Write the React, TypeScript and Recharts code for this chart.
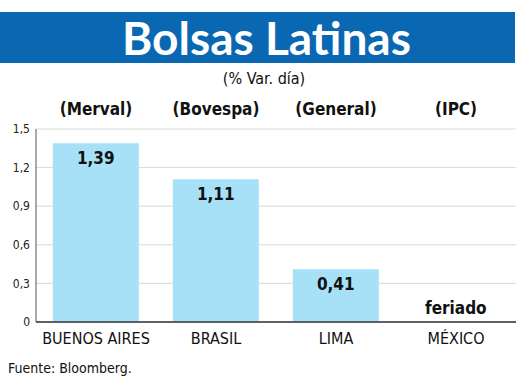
import React from 'react';
import { BarChart, Bar, Cell, XAxis, YAxis, CartesianGrid, LabelList } from 'recharts';

const paises = ['BUENOS AIRES', 'BRASIL', 'LIMA', 'MÉXICO'];
const indices = ['(Merval)', '(Bovespa)', '(General)', '(IPC)'];
const variacion = [1.39, 1.11, 0.41, 0];
const notas = ['', '', '', 'feriado'];
const ticksY = [0, 0.3, 0.6, 0.9, 1.2, 1.5];

const FONT = "'DejaVu Sans Condensed', 'Liberation Sans Narrow', 'Roboto', sans-serif";
const FONT_TITULO = "Lato, 'DejaVu Sans Condensed', sans-serif";
const AZUL_TITULO = '#0a67b1';
const CELESTE = '#a6e1f7';

const data = paises.map((pais, i) => ({
  pais,
  indice: indices[i],
  valor: variacion[i],
  nota: notas[i],
}));

// 1.39 -> "1,39"; 0 -> "0"
const fmt = (v: number, dec: number) => (v === 0 ? '0' : v.toFixed(dec).replace('.', ','));

const EtiquetaValor = (props: any) => {
  const { x, y, width, height, index } = props;
  const d = data[index];
  const cx = x + width / 2;
  if (d.nota) {
    // barra sin variación: la nota va apoyada sobre la base
    return (
      <text x={cx} y={y + height - 14} textAnchor="middle" dominantBaseline="central"
        fontFamily={FONT} fontWeight="bold" fontSize={17} fill="#111">
        {d.nota}
      </text>
    );
  }
  return (
    <text x={cx} y={y + 15} textAnchor="middle" dominantBaseline="central"
      fontFamily={FONT} fontWeight="bold" fontSize={17} fill="#111">
      {fmt(d.valor, 2)}
    </text>
  );
};

export default function App() {
  return (
    <div style={{ position: 'absolute', left: 0, top: 0, width: 520, height: 389, background: '#fff', overflow: 'hidden' }}>
      <div style={{
        position: 'absolute', left: 0, top: 12, width: 515, height: 51, background: AZUL_TITULO,
        color: '#fff', fontFamily: FONT_TITULO, fontWeight: 'bold', fontSize: 46, lineHeight: '51px',
        textAlign: 'center', paddingLeft: 18, boxSizing: 'border-box',
      }}>
        Bolsas Latinas
      </div>
      <div style={{
        position: 'absolute', left: 0, top: 69, width: 528, textAlign: 'center',
        fontFamily: FONT, fontSize: 16, color: '#111',
      }}>
        (% Var. día)
      </div>
      <div style={{ position: 'absolute', left: 0, top: 0 }}>
        <BarChart width={520} height={389} data={data}
          margin={{ top: 90, right: 4, bottom: 37, left: 0 }} barCategoryGap="14%">
          <CartesianGrid vertical={false} stroke="#d9d9d9" />
          <XAxis dataKey="pais" xAxisId="abajo" height={30} tickSize={0} tickMargin={11}
            axisLine={{ stroke: '#333', strokeWidth: 1.5 }}
            tick={{ fontFamily: FONT, fontSize: 16, fill: '#111' }} interval={0} />
          <XAxis dataKey="indice" xAxisId="arriba" orientation="top" height={39} tickSize={0} tickMargin={14}
            axisLine={false} tick={{ fontFamily: FONT, fontSize: 17, fontWeight: 'bold', fill: '#111' }} interval={0} />
          <YAxis width={36} domain={[0, 1.5]} ticks={ticksY} tickSize={0} tickMargin={6}
            axisLine={{ stroke: '#555' }} tickFormatter={(v: number) => fmt(v, 1)}
            tick={{ fontFamily: FONT, fontSize: 12, fill: '#222' }} />
          <Bar dataKey="valor" xAxisId="abajo" fill={CELESTE} minPointSize={1} isAnimationActive={false}>
            {data.map((d, i) => (
              <Cell key={`c-${i}`} fill={d.valor === 0 ? 'transparent' : CELESTE} />
            ))}
            <LabelList dataKey="valor" content={EtiquetaValor} />
          </Bar>
        </BarChart>
      </div>
      <div style={{
        position: 'absolute', left: 8, top: 360, fontFamily: FONT, fontSize: 14, color: '#111',
      }}>
        Fuente: Bloomberg.
      </div>
    </div>
  );
}
